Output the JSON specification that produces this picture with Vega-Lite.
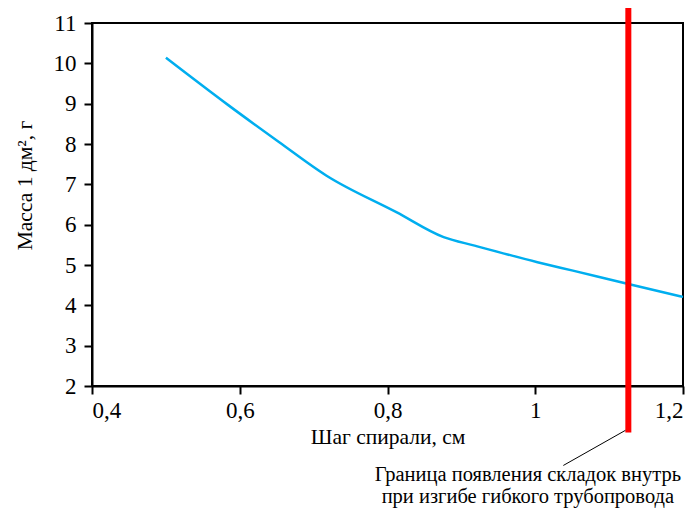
{
  "$schema": "https://vega.github.io/schema/vega-lite/v6.json",
  "width": 591,
  "height": 363,
  "autosize": {"type": "none"},
  "padding": {"left": 92, "top": 23, "right": 14, "bottom": 125},
  "background": "white",
  "config": {
    "font": "Liberation Serif",
    "view": {"stroke": "black", "strokeWidth": 2},
    "axis": {
      "labelFont": "Liberation Serif",
      "titleFont": "Liberation Serif",
      "titleFontWeight": "normal",
      "labelColor": "black",
      "titleColor": "black",
      "domainColor": "black",
      "domainWidth": 2,
      "tickColor": "black",
      "tickWidth": 2,
      "tickSize": 8,
      "grid": false
    }
  },
  "layer": [
    {
      "data": {"values": [
        {"x": 0.5, "y": 10.14},
        {"x": 0.584, "y": 8.97},
        {"x": 0.653, "y": 8.05},
        {"x": 0.717, "y": 7.22},
        {"x": 0.812, "y": 6.31},
        {"x": 0.876, "y": 5.69},
        {"x": 0.918, "y": 5.48},
        {"x": 1.003, "y": 5.07},
        {"x": 1.051, "y": 4.86},
        {"x": 1.126, "y": 4.53},
        {"x": 1.2, "y": 4.21}
      ]},
      "mark": {"type": "line", "color": "#00AEEF", "strokeWidth": 2.5, "interpolate": "monotone"},
      "encoding": {
        "x": {"field": "x", "type": "quantitative",
          "scale": {"domain": [0.4, 1.2], "nice": false, "zero": false},
          "axis": {"values": [0.4, 0.6, 0.8, 1, 1.2], "labelExpr": "replace(format(datum.value, '.1~f'), '.', ',')", "labelFont": "Liberation Serif", "labelFontSize": 23, "labelPadding": 5, "title": "Шаг спирали, см", "titleFontSize": 21.5, "titlePadding": 4}},
        "y": {"field": "y", "type": "quantitative",
          "scale": {"domain": [2, 11], "nice": false, "zero": false},
          "axis": {"values": [2, 3, 4, 5, 6, 7, 8, 9, 10, 11], "format": "d", "labelFont": "Liberation Serif", "labelFontSize": 23, "labelPadding": 8, "title": "Масса 1 дм², г", "titleFontSize": 21.5, "titlePadding": 17, "titleY": 162}}
      }
    },
    {
      "data": {"values": [{"x": 1.126, "y": 0.85, "y2": 11.37}]},
      "mark": {"type": "rule", "color": "#FF0000", "strokeWidth": 6},
      "encoding": {
        "x": {"field": "x", "type": "quantitative"},
        "y": {"field": "y", "type": "quantitative"},
        "y2": {"field": "y2"}
      }
    },
    {
      "data": {"values": [{"x": 1.122, "y": 0.9, "x2": 1.038, "y2": 0.03}]},
      "mark": {"type": "rule", "color": "black", "strokeWidth": 1},
      "encoding": {
        "x": {"field": "x", "type": "quantitative"},
        "y": {"field": "y", "type": "quantitative"},
        "x2": {"field": "x2"},
        "y2": {"field": "y2"}
      }
    },
    {
      "data": {"values": [
        {"x": 0.99, "y": -0.2, "t": "Граница появления складок внутрь"},
        {"x": 0.99, "y": -0.76, "t": "при изгибе гибкого трубопровода"}
      ]},
      "mark": {"type": "text", "fontSize": 20.5, "font": "Liberation Serif", "color": "black", "align": "center", "baseline": "middle"},
      "encoding": {
        "x": {"field": "x", "type": "quantitative"},
        "y": {"field": "y", "type": "quantitative"},
        "text": {"field": "t"}
      }
    }
  ]
}
